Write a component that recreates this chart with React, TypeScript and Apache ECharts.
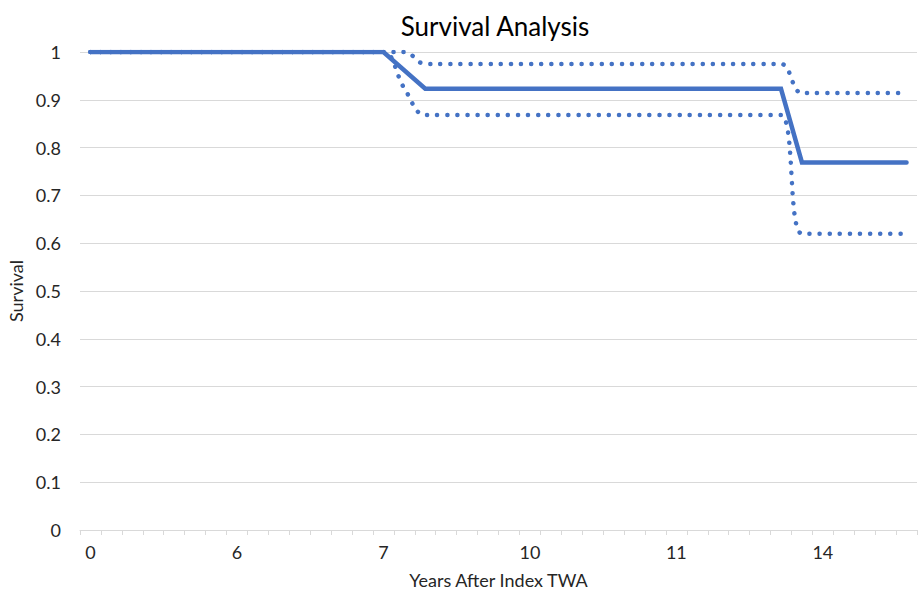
import React, { useEffect, useRef } from "react";
import * as echarts from "echarts";

const categories: string[] = [
  "0", "1", "2", "3", "4", "5", "5",
  "6", "6", "6", "6", "7", "7", "7",
  "7", "7", "8", "8", "9", "9", "9",
  "10", "10", "10", "10", "10", "11", "11",
  "11", "11", "12", "12", "13", "13", "13",
  "14", "14", "14", "14", "15",
];

const survival: (number | null)[] = [
  1, 1, 1, 1, 1, 1, 1, 1, 1, 1, 1, 1, 1, 1,
  1, null, 0.923, 0.923, 0.923, 0.923, 0.923, 0.923, 0.923, 0.923, 0.923, 0.923, 0.923, 0.923,
  0.923, 0.923, 0.923, 0.923, 0.923, 0.923,
  0.769, 0.769, 0.769, 0.769, 0.769, 0.769,
];

const upperCI: number[] = [
  1, 1, 1, 1, 1, 1, 1, 1, 1, 1, 1, 1, 1, 1,
  1, 1, 0.975, 0.975, 0.975, 0.975, 0.975, 0.975, 0.975, 0.975, 0.975, 0.975, 0.975, 0.975,
  0.975, 0.975, 0.975, 0.975, 0.975, 0.975,
  0.914, 0.914, 0.914, 0.914, 0.914, 0.914,
];

const lowerCI: number[] = [
  1, 1, 1, 1, 1, 1, 1, 1, 1, 1, 1, 1, 1, 1,
  1, 0.924, 0.868, 0.868, 0.868, 0.868, 0.868, 0.868, 0.868, 0.868, 0.868, 0.868, 0.868, 0.868,
  0.868, 0.868, 0.868, 0.868, 0.868, 0.868,
  0.62, 0.62, 0.62, 0.62, 0.62, 0.62,
];

const yTicks = { min: 0, max: 1, interval: 0.1 };

const FONT = "Lato, 'Open Sans', sans-serif";
const BLUE = "#4472C4";
const TEXT = "#262626";

export default function App() {
  const ref = useRef<HTMLDivElement>(null);
  useEffect(() => {
    document.body.style.margin = "0";
    if (!ref.current) return;
    const chart = echarts.init(ref.current, null, { renderer: "svg" });
    const dotted = {
      color: BLUE,
      width: 4.5,
      type: [0.1, 10] as number[],
      cap: "round" as const,
    };
    chart.setOption({
      animation: false,
      title: {
        text: "Survival Analysis",
        left: 490,
        top: 8,
        textAlign: "center",
        textStyle: { fontFamily: FONT, fontSize: 26, fontWeight: "normal", color: "#000" },
      },
      grid: {
        left: 80,
        right: 1,
        top: 52,
        bottom: 62,
        containLabel: false,
        outerBoundsMode: "none",
      },
      xAxis: {
        type: "category",
        data: categories,
        boundaryGap: true,
        name: "Years After Index TWA",
        nameLocation: "middle",
        nameGap: 41,
        nameTextStyle: { fontFamily: FONT, fontSize: 18, color: TEXT },
        axisLine: { show: true, lineStyle: { color: "#d9d9d9", width: 1 } },
        axisTick: { show: true, interval: 0, length: 5, lineStyle: { color: "#d9d9d9" } },
        axisLabel: {
          interval: 6,
          margin: 13,
          fontFamily: FONT,
          fontSize: 18,
          color: TEXT,
        },
        splitLine: { show: false },
      },
      yAxis: {
        type: "value",
        min: yTicks.min,
        max: yTicks.max,
        interval: yTicks.interval,
        name: "Survival",
        nameLocation: "middle",
        nameGap: 51,
        nameRotate: 90,
        nameTextStyle: { fontFamily: FONT, fontSize: 18, color: TEXT },
        axisLine: { show: false },
        axisTick: { show: false },
        axisLabel: {
          margin: 19,
          fontFamily: FONT,
          fontSize: 18,
          color: TEXT,
          formatter: (v: number) => String(Math.round(v * 10) / 10),
        },
        splitLine: { show: true, lineStyle: { color: "#d9d9d9", width: 1.2 } },
      },
      series: [
        {
          name: "Upper CI",
          type: "line",
          data: upperCI,
          smooth: 0.4,
          showSymbol: false,
          symbol: "none",
          lineStyle: dotted,
          z: 2,
        },
        {
          name: "Lower CI",
          type: "line",
          data: lowerCI,
          smooth: 0.4,
          showSymbol: false,
          symbol: "none",
          lineStyle: dotted,
          z: 2,
        },
        {
          name: "Survival",
          type: "line",
          data: survival,
          connectNulls: true,
          showSymbol: false,
          symbol: "none",
          lineStyle: { color: BLUE, width: 4.5, cap: "round", join: "miter" },
          z: 3,
        },
      ],
    });
    return () => chart.dispose();
  }, []);
  return <div ref={ref} style={{ width: 918, height: 592 }} />;
}
